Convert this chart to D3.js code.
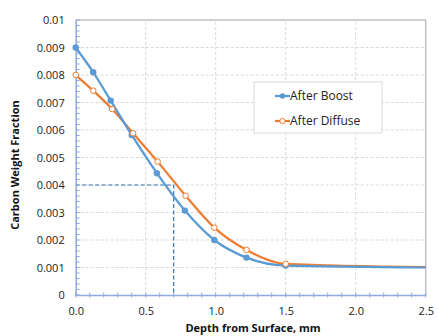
<!DOCTYPE html>
<html><head><meta charset="utf-8">
<script src="https://cdn.jsdelivr.net/npm/d3@7"></script>
<style>body{margin:0;background:#fff}svg{display:block}</style>
</head><body>
<svg id="c" width="438" height="336"></svg>
<script>
const depth = [0, 0.125, 0.25, 0.4, 0.58, 0.78, 0.99, 1.22, 1.5, 2.5];
const afterBoost = [0.009, 0.0081, 0.00707, 0.00582, 0.00443, 0.00307, 0.0020, 0.00136, 0.00107, 0.00100];
const depthDiffuse = [0, 0.125, 0.26, 0.41, 0.585, 0.785, 0.99, 1.22, 1.5, 2.5];
const afterDiffuse = [0.008, 0.00743, 0.00676, 0.00588, 0.00485, 0.00361, 0.00245, 0.00164, 0.00113, 0.00101];
const xTicks = [0, 0.5, 1.0, 1.5, 2.0, 2.5];
const yTicks = [0, 0.001, 0.002, 0.003, 0.004, 0.005, 0.006, 0.007, 0.008, 0.009, 0.01];
const seriesNames = ["After Boost", "After Diffuse"];
const refPoint = [0.7, 0.004];

const svg = d3.select("#c");
const x = d3.scaleLinear().domain([0, 2.5]).range([75.7, 425.7]);
const y = d3.scaleLinear().domain([0, 0.01]).range([295, 20]);
const font = "'Open Sans', sans-serif";
const blue = "#5B9BD5", orange = "#ED7D31";

// grid
const g = svg.append("g");
g.selectAll(".hg").data(yTicks.slice(1, -1)).join("line")
  .attr("x1", x(0)).attr("x2", x(2.5)).attr("y1", d => y(d)).attr("y2", d => y(d))
  .attr("stroke", "#d9d9d9").attr("stroke-dasharray", "3,2").attr("stroke-width", 1);
g.selectAll(".vg").data(xTicks.slice(1, -1)).join("line")
  .attr("y1", y(0)).attr("y2", y(0.01)).attr("x1", d => x(d)).attr("x2", d => x(d))
  .attr("stroke", "#d9d9d9").attr("stroke-dasharray", "3,2").attr("stroke-width", 1);
// border top/right
svg.append("line").attr("x1", x(0)).attr("x2", x(2.5)).attr("y1", y(0.01)).attr("y2", y(0.01)).attr("stroke", "#bfbfbf").attr("stroke-width", 1.5);
svg.append("line").attr("x1", x(2.5)).attr("x2", x(2.5)).attr("y1", y(0.01)).attr("y2", y(0)).attr("stroke", "#bfbfbf").attr("stroke-width", 1.5);

// reference dashed lines
svg.append("path")
  .attr("d", `M${x(0)},${y(refPoint[1])}H${x(refPoint[0])}V${y(0)}`)
  .attr("fill", "none").attr("stroke", "#2E75B6").attr("stroke-width", 1.2).attr("stroke-dasharray", "4,2.5");

// axes
const axisColor = "#8faadc";
const yAxis = svg.append("g").attr("transform", `translate(${x(0)},0)`)
  .call(d3.axisLeft(y).tickValues(yTicks).tickFormat(d => d === 0 ? "0" : d3.format("")(+d.toFixed(3))).tickSize(0).tickPadding(11));
yAxis.select(".domain").attr("stroke", axisColor).attr("stroke-width", 1.5);
yAxis.selectAll("text").attr("font-family", font).attr("font-size", 11).attr("fill", "#222");
const yMinor = d3.range(0, 0.01001, 0.0002);
svg.append("g").selectAll("line").data(yMinor).join("line")
  .attr("x1", x(0)).attr("x2", x(0) + 4).attr("y1", d => y(d)).attr("y2", d => y(d))
  .attr("stroke", axisColor).attr("stroke-width", 1);

const xAxis = svg.append("g").attr("transform", `translate(0,${y(0)})`)
  .call(d3.axisBottom(x).tickValues(xTicks).tickFormat(d3.format(".1f")).tickSize(0).tickPadding(12));
xAxis.select(".domain").attr("stroke", axisColor).attr("stroke-width", 1.5);
xAxis.selectAll("text").attr("font-family", font).attr("font-size", 11).attr("fill", "#222");
const xMinor = d3.range(0, 2.501, 0.1);
svg.append("g").selectAll("line").data(xMinor).join("line")
  .attr("x1", d => x(d)).attr("x2", d => x(d)).attr("y1", y(0) - 2.5).attr("y2", y(0) + 2.5)
  .attr("stroke", axisColor).attr("stroke-width", 1);

// lines
const line = d3.line().curve(d3.curveMonotoneX).x(d => x(d[0])).y(d => y(d[1]));
const boostPts = depth.map((d, i) => [d, afterBoost[i]]);
const diffPts = depthDiffuse.map((d, i) => [d, afterDiffuse[i]]);
svg.append("path").attr("d", line(diffPts)).attr("fill", "none").attr("stroke", orange).attr("stroke-width", 2.25);
svg.append("path").attr("d", line(boostPts)).attr("fill", "none").attr("stroke", blue).attr("stroke-width", 2.25);
svg.append("g").selectAll("circle").data(boostPts.slice(0, -1)).join("circle")
  .attr("cx", d => x(d[0])).attr("cy", d => y(d[1])).attr("r", 3.2).attr("fill", blue);
svg.append("g").selectAll("circle").data(diffPts.slice(0, -1)).join("circle")
  .attr("cx", d => x(d[0])).attr("cy", d => y(d[1])).attr("r", 2.8).attr("fill", "#fff").attr("stroke", orange).attr("stroke-width", 1);

// legend
const lg = svg.append("g");
lg.append("rect").attr("x", 254).attr("y", 82).attr("width", 128).attr("height", 51)
  .attr("fill", "#fff").attr("stroke", "#d9d9d9").attr("stroke-width", 1);
[[blue, true], [orange, false]].forEach((s, i) => {
  const yy = 96 + i * 25;
  lg.append("line").attr("x1", 275).attr("x2", 290).attr("y1", yy).attr("y2", yy).attr("stroke", s[0]).attr("stroke-width", 2.25);
  lg.append("circle").attr("cx", 282.5).attr("cy", yy).attr("r", s[1] ? 2.8 : 2.6)
    .attr("fill", s[1] ? s[0] : "#fff").attr("stroke", s[1] ? "none" : s[0]).attr("stroke-width", 1);
  lg.append("text").attr("x", 290).attr("y", yy + 4).text(seriesNames[i])
    .attr("font-family", font).attr("font-size", 12).attr("fill", "#222");
});

// axis titles
svg.append("text").attr("transform", "translate(19,165) rotate(-90)").attr("text-anchor", "middle")
  .attr("font-family", font).attr("font-size", 11).attr("font-weight", "bold").attr("fill", "#111")
  .text("Carbon Weight Fraction");
svg.append("text").attr("x", 253).attr("y", 331.5).attr("text-anchor", "middle")
  .attr("font-family", font).attr("font-size", 11).attr("font-weight", "bold").attr("fill", "#111")
  .text("Depth from Surface, mm");
</script>
</body></html>
